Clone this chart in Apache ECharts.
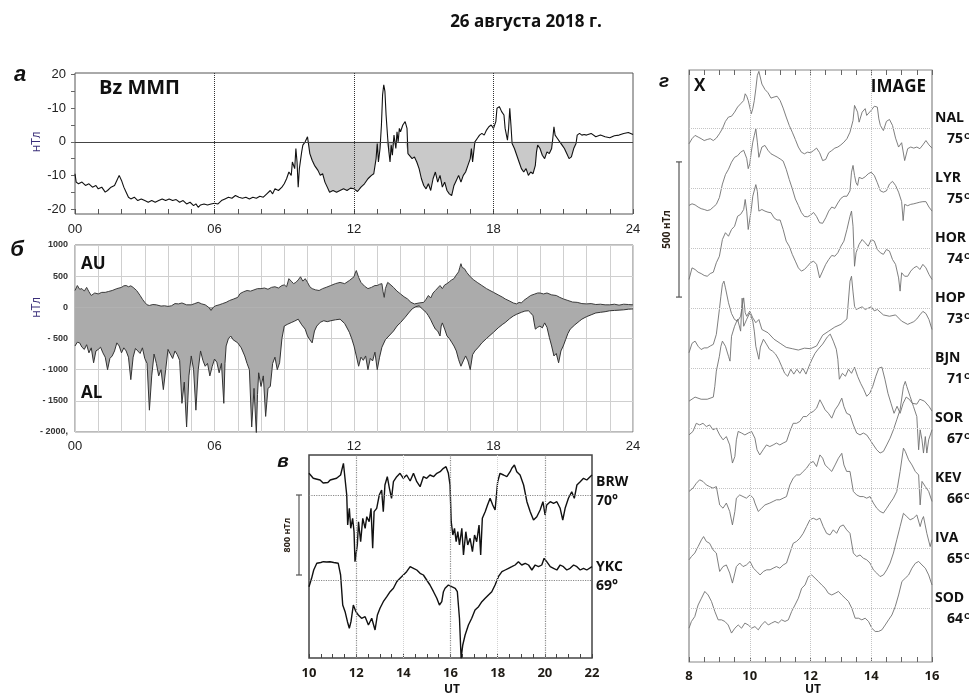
<!DOCTYPE html>
<html><head><meta charset="utf-8">
<script src="https://cdn.jsdelivr.net/npm/echarts@6/dist/echarts.min.js"></script>
<style>html,body{margin:0;padding:0;background:#fff}#c{width:969px;height:695px}</style>
</head><body><div id="c"></div>
<script>
// ---------- Panel а: Bz IMF (nT) vs UT hours ----------
const bzTickValues=[-20,-10,0,10,20];
const bzTickText={'-20':'-20','-10':'-10','0':'0','10':'-10','20':'20'};
const bzDottedHours=[6,12,18];
const bzShadeRange=[9.9,21.6];
const bz=[[0.00,-9.5],[0.05,-12],[0.15,-12.5],[0.3,-12],[0.45,-13],[0.6,-12.5],[0.75,-13.5],[0.9,-13],[1.0,-14],[1.15,-13.5],[1.3,-15],[1.4,-14.5],[1.55,-13.5],[1.7,-13],[1.8,-11.5],[1.9,-10],[2.0,-11.5],[2.1,-13.5],[2.2,-15],[2.3,-16.5],[2.4,-17],[2.55,-16.5],[2.7,-17.5],[2.85,-17],[3.0,-17.5],[3.15,-18],[3.3,-17.5],[3.45,-18],[3.6,-17.5],[3.75,-17],[3.9,-17.5],[4.05,-17],[4.2,-17.5],[4.35,-17.2],[4.5,-18],[4.65,-17.5],[4.8,-18.5],[4.95,-18],[5.1,-19],[5.2,-18.5],[5.3,-19.5],[5.4,-18.8],[5.55,-18.5],[5.7,-18.8],[5.85,-18.5],[6.0,-18.3],[6.15,-18.5],[6.3,-17.5],[6.45,-17],[6.6,-16.5],[6.75,-16.8],[6.9,-16],[7.05,-16.5],[7.2,-16.8],[7.35,-16.5],[7.5,-17],[7.65,-16.5],[7.8,-16.8],[7.95,-16.2],[8.1,-16.5],[8.25,-15.5],[8.4,-14.5],[8.5,-15.5],[8.6,-14],[8.75,-14.5],[8.9,-13.5],[9.0,-12.5],[9.1,-11],[9.2,-9],[9.3,-10],[9.35,-6],[9.45,-8],[9.5,-2],[9.55,-6],[9.6,-13.5],[9.65,-8],[9.75,-3],[9.8,-1],[9.9,0],[10.0,1.5],[10.05,-1],[10.1,-3.5],[10.2,-5.5],[10.3,-7],[10.45,-8.5],[10.55,-10],[10.65,-9.5],[10.75,-12],[10.85,-13.5],[10.95,-15],[11.1,-14.5],[11.25,-15],[11.4,-14.5],[11.55,-14],[11.7,-14.5],[11.85,-13.8],[12.0,-14],[12.15,-14.8],[12.3,-13.5],[12.45,-12.5],[12.6,-11],[12.75,-10],[12.85,-9.5],[12.95,-5],[13.0,-0.5],[13.05,-6],[13.12,-2],[13.18,5],[13.23,14],[13.28,17],[13.33,15],[13.38,8],[13.45,1],[13.5,-3],[13.55,-6],[13.6,-1],[13.65,-4],[13.72,2],[13.8,-2],[13.85,3],[13.9,0],[13.95,4],[14.0,3],[14.1,5],[14.2,6],[14.28,4],[14.32,-3.5],[14.4,-4],[14.5,-5],[14.6,-4.5],[14.7,-6],[14.8,-8],[14.9,-11],[15.0,-13],[15.1,-14],[15.2,-12.5],[15.3,-14.5],[15.4,-11],[15.5,-9],[15.6,-12],[15.7,-10],[15.8,-13.5],[15.9,-12],[16.0,-14.5],[16.1,-15.5],[16.2,-16],[16.3,-13],[16.4,-11.5],[16.5,-10],[16.6,-12],[16.7,-10],[16.8,-9],[16.9,-7],[17.0,-5],[17.05,-2],[17.1,-6],[17.2,0],[17.3,1],[17.4,2],[17.5,2.5],[17.6,2],[17.7,3.5],[17.8,4.5],[17.9,5],[18.0,4],[18.1,6],[18.15,10],[18.25,10.5],[18.35,9],[18.45,8],[18.5,4],[18.6,0.5],[18.65,4],[18.7,10],[18.75,5],[18.8,-0.5],[18.9,-2],[19.0,-4],[19.1,-6],[19.2,-8],[19.3,-9],[19.4,-8],[19.5,-10],[19.6,-9],[19.7,-9.5],[19.8,-7],[19.85,-3],[19.9,-1],[20.0,-2],[20.1,-4],[20.2,-5],[20.3,-3],[20.4,-3.5],[20.5,-2],[20.55,1],[20.6,4.5],[20.65,2],[20.75,1],[20.85,0],[20.95,-1],[21.05,-2],[21.15,-3.5],[21.25,-5],[21.35,-4.5],[21.45,-2],[21.55,-0.5],[21.6,2],[21.7,2.5],[21.8,2],[21.9,2.2],[22.0,2],[22.2,2.5],[22.4,1.5],[22.6,2],[22.8,1.5],[23.0,1.2],[23.2,1.8],[23.4,2],[23.6,2.5],[23.8,2.8],[24.0,2.2]];

// ---------- Panel б: AU / AL (nT) ----------
const aeTickText={'1000':'1000','500':'500','0':'0','-500':'- 500','-1000':'- 1000','-1500':'- 1500','-2000':'- 2000,'};
const au=[[0,270],[0.1,350],[0.2,290],[0.3,300],[0.4,260],[0.5,320],[0.6,250],[0.7,190],[0.85,230],[1.0,215],[1.15,240],[1.3,240],[1.45,255],[1.6,270],[1.8,300],[2.0,320],[2.1,345],[2.2,350],[2.3,330],[2.4,345],[2.5,320],[2.65,270],[2.8,190],[2.9,130],[3.0,80],[3.1,40],[3.2,30],[3.35,45],[3.5,40],[3.7,20],[3.85,25],[4.0,15],[4.15,25],[4.3,60],[4.45,55],[4.6,70],[4.8,40],[5.0,40],[5.15,60],[5.3,80],[5.45,55],[5.6,40],[5.75,0],[5.85,-50],[5.95,0],[6.05,25],[6.2,40],[6.35,60],[6.5,80],[6.65,110],[6.8,130],[7.0,160],[7.1,220],[7.25,250],[7.4,270],[7.55,260],[7.7,280],[7.85,300],[8.0,300],[8.15,310],[8.3,290],[8.45,320],[8.6,330],[8.75,310],[8.9,350],[9.0,360],[9.1,330],[9.2,460],[9.3,420],[9.4,380],[9.5,400],[9.6,440],[9.7,490],[9.8,420],[9.9,460],[10.0,400],[10.1,330],[10.2,300],[10.35,280],[10.5,270],[10.65,300],[10.8,320],[11.0,350],[11.2,380],[11.4,400],[11.6,380],[11.8,430],[12.0,490],[12.05,550],[12.1,590],[12.2,480],[12.3,400],[12.45,340],[12.6,300],[12.75,320],[12.9,350],[13.0,350],[13.1,370],[13.2,380],[13.25,250],[13.3,160],[13.35,300],[13.45,400],[13.55,370],[13.7,320],[13.85,260],[14.0,215],[14.15,170],[14.3,135],[14.45,80],[14.6,55],[14.8,70],[15.0,80],[15.1,130],[15.2,190],[15.3,150],[15.4,230],[15.5,270],[15.6,310],[15.7,350],[15.8,300],[15.9,360],[16.0,380],[16.1,410],[16.2,440],[16.3,460],[16.4,520],[16.5,570],[16.55,640],[16.6,700],[16.65,640],[16.75,620],[16.85,560],[17.0,490],[17.15,440],[17.3,400],[17.5,350],[17.7,300],[17.85,270],[18.0,240],[18.2,200],[18.4,160],[18.5,135],[18.7,100],[18.85,70],[19.0,55],[19.1,80],[19.2,70],[19.3,110],[19.45,150],[19.6,190],[19.75,210],[19.9,230],[20.0,230],[20.15,215],[20.3,230],[20.5,200],[20.7,190],[20.85,160],[21.0,135],[21.2,110],[21.4,85],[21.6,80],[21.8,60],[22.0,55],[22.2,60],[22.4,45],[22.6,50],[22.8,40],[23.0,40],[23.2,50],[23.4,35],[23.6,50],[23.8,45],[24.0,40]];
const al=[[0,-620],[0.1,-560],[0.2,-570],[0.3,-640],[0.4,-675],[0.5,-600],[0.6,-730],[0.7,-650],[0.8,-890],[0.9,-700],[1.0,-675],[1.1,-640],[1.2,-730],[1.3,-800],[1.4,-1000],[1.5,-820],[1.6,-780],[1.7,-700],[1.8,-570],[1.9,-620],[2.0,-730],[2.1,-650],[2.2,-700],[2.3,-800],[2.4,-1160],[2.5,-800],[2.6,-660],[2.7,-700],[2.8,-740],[2.9,-650],[3.0,-820],[3.1,-900],[3.2,-1650],[3.3,-1100],[3.4,-750],[3.5,-900],[3.6,-1100],[3.7,-1000],[3.8,-1320],[3.9,-1000],[4.0,-675],[4.1,-750],[4.2,-820],[4.3,-700],[4.4,-760],[4.5,-850],[4.6,-1540],[4.7,-1200],[4.8,-1920],[4.9,-1100],[5.0,-780],[5.1,-1000],[5.2,-1650],[5.3,-1000],[5.4,-700],[5.5,-850],[5.6,-945],[5.7,-900],[5.8,-1100],[5.9,-950],[6.0,-830],[6.1,-880],[6.2,-1050],[6.3,-900],[6.4,-1540],[6.45,-900],[6.5,-620],[6.6,-500],[6.7,-460],[6.8,-520],[7.0,-570],[7.15,-650],[7.3,-780],[7.4,-900],[7.5,-1000],[7.6,-1920],[7.7,-1300],[7.8,-2025],[7.85,-1400],[7.9,-1050],[8.0,-1270],[8.1,-1100],[8.2,-1750],[8.3,-1300],[8.4,-1270],[8.5,-900],[8.6,-800],[8.7,-1000],[8.8,-890],[8.9,-500],[9.0,-300],[9.15,-270],[9.3,-245],[9.45,-220],[9.6,-190],[9.75,-280],[9.9,-350],[10.0,-460],[10.1,-520],[10.2,-570],[10.3,-380],[10.4,-300],[10.55,-240],[10.7,-215],[10.85,-230],[11.0,-215],[11.2,-200],[11.4,-190],[11.6,-260],[11.8,-400],[11.9,-500],[12.0,-620],[12.1,-780],[12.2,-945],[12.3,-800],[12.4,-850],[12.5,-780],[12.6,-1000],[12.7,-820],[12.8,-860],[12.9,-720],[13.0,-1000],[13.1,-800],[13.2,-640],[13.35,-520],[13.5,-460],[13.7,-380],[13.85,-300],[14.0,-245],[14.2,-160],[14.35,-90],[14.5,-25],[14.65,10],[14.8,25],[14.95,-30],[15.1,-80],[15.2,-135],[15.3,-200],[15.4,-280],[15.5,-350],[15.6,-380],[15.7,-460],[15.75,-300],[15.8,-250],[15.9,-350],[16.0,-460],[16.1,-500],[16.2,-560],[16.3,-620],[16.4,-700],[16.5,-840],[16.6,-945],[16.7,-860],[16.8,-780],[16.9,-860],[17.0,-1000],[17.1,-760],[17.2,-700],[17.35,-640],[17.5,-570],[17.7,-500],[17.85,-450],[18.0,-400],[18.2,-330],[18.4,-270],[18.5,-245],[18.7,-180],[18.85,-140],[19.0,-110],[19.2,-80],[19.35,-60],[19.5,-55],[19.6,-90],[19.7,-135],[19.75,-250],[19.8,-350],[19.9,-320],[20.0,-300],[20.1,-330],[20.2,-250],[20.3,-320],[20.4,-480],[20.5,-620],[20.6,-780],[20.7,-740],[20.8,-890],[20.9,-700],[21.0,-620],[21.1,-520],[21.2,-420],[21.3,-350],[21.5,-280],[21.7,-220],[21.8,-190],[22.0,-150],[22.2,-120],[22.4,-90],[22.6,-80],[22.8,-70],[23.0,-55],[23.2,-50],[23.4,-45],[23.6,-40],[23.8,-30],[24.0,-25]];

// ---------- Panel в: BRW / YKC X-component deviation (nT) ----------
const vStations=['BRW','YKC'];
const vLats=['70°','69°'];
const vDottedHours=[12,16,20];
const vFaintHours=[14,18];
const brw=[[10.0,217],[10.1,190],[10.18,167],[10.3,160],[10.47,150],[10.6,120],[10.68,100],[10.8,125],[10.9,150],[11.05,160],[11.17,167],[11.34,200],[11.46,317],[11.53,300],[11.6,0],[11.64,-300],[11.71,-133],[11.77,-333],[11.85,-233],[11.91,-367],[11.95,-667],[12.05,-500],[12.1,-267],[12.19,-467],[12.28,-233],[12.38,-333],[12.45,-217],[12.55,-267],[12.63,-133],[12.7,-533],[12.76,-167],[12.87,-133],[12.98,0],[13.08,50],[13.15,-167],[13.22,100],[13.32,183],[13.41,67],[13.5,-33],[13.58,133],[13.72,183],[13.86,217],[14.0,167],[14.14,200],[14.29,140],[14.43,217],[14.57,133],[14.71,83],[14.85,183],[14.99,167],[15.13,200],[15.28,183],[15.42,217],[15.56,233],[15.7,267],[15.81,283],[15.91,217],[15.98,100],[16.03,-267],[16.1,-400],[16.17,-333],[16.24,-467],[16.31,-367],[16.38,-500],[16.48,-333],[16.55,-600],[16.65,-367],[16.73,-500],[16.83,-433],[16.93,-567],[17.02,-400],[17.11,-467],[17.21,-300],[17.28,-600],[17.35,-233],[17.47,-167],[17.57,-100],[17.68,-33],[17.79,-100],[17.89,-150],[17.96,-167],[18.0,133],[18.1,217],[18.25,200],[18.39,183],[18.53,233],[18.6,267],[18.71,300],[18.81,233],[18.95,200],[19.1,100],[19.24,-67],[19.38,-167],[19.52,-250],[19.66,-217],[19.8,-150],[19.92,-67],[20.01,-200],[20.08,-100],[20.23,-67],[20.37,-83],[20.51,-67],[20.65,-133],[20.76,-250],[20.86,-133],[21.0,-33],[21.14,33],[21.25,-33],[21.36,100],[21.5,133],[21.64,167],[21.78,150],[21.92,183],[22.0,200]];
const ykc=[[10.0,-67],[10.11,17],[10.2,100],[10.33,167],[10.5,175],[10.61,183],[10.75,180],[10.89,183],[11.05,175],[11.24,167],[11.34,50],[11.43,-250],[11.53,-317],[11.63,-417],[11.71,-483],[11.78,-417],[11.88,-250],[11.99,-317],[12.09,-350],[12.23,-383],[12.38,-367],[12.52,-450],[12.66,-383],[12.8,-500],[12.9,-350],[13.01,-283],[13.15,-217],[13.3,-167],[13.44,-117],[13.58,-83],[13.72,-17],[13.86,17],[14.0,50],[14.14,83],[14.29,133],[14.43,117],[14.57,100],[14.71,67],[14.85,50],[14.99,0],[15.13,-50],[15.28,-117],[15.42,-183],[15.53,-250],[15.63,-217],[15.7,-117],[15.77,-83],[15.91,-50],[16.05,-67],[16.2,-83],[16.29,-117],[16.38,-383],[16.45,-783],[16.52,-650],[16.62,-550],[16.76,-450],[16.9,-383],[17.04,-300],[17.19,-267],[17.33,-217],[17.47,-183],[17.61,-150],[17.75,-117],[17.89,-50],[18.03,33],[18.18,83],[18.32,100],[18.46,117],[18.6,133],[18.74,150],[18.88,183],[19.02,150],[19.17,167],[19.31,150],[19.45,100],[19.59,150],[19.73,133],[19.87,150],[19.97,217],[20.08,183],[20.23,133],[20.37,117],[20.51,100],[20.65,150],[20.79,133],[20.93,100],[21.07,117],[21.22,150],[21.36,133],[21.5,100],[21.64,117],[21.78,100],[22.0,133]];

// ---------- Panel г: IMAGE X-component deviations (nT) ----------
const imageStations=['NAL','LYR','HOR','HOP','BJN','SOR','KEV','IVA','SOD'];
const imageLats=['75','75','74','73','71','67','66','65','64'];
const imageDottedHours=[10,12,14];
const nal=[[8.0,-58],[8.1,-39],[8.2,-27],[8.3,-33],[8.4,-39],[8.5,-46],[8.6,-42],[8.7,-39],[8.8,-46],[8.9,-37],[9.0,-21],[9.1,-2],[9.2,25],[9.3,41],[9.4,44],[9.5,59],[9.6,78],[9.7,90],[9.8,102],[9.85,127],[9.9,118],[9.95,102],[10.0,78],[10.05,53],[10.1,72],[10.15,102],[10.2,145],[10.25,195],[10.3,210],[10.35,213],[10.4,163],[10.5,143],[10.6,131],[10.7,111],[10.8,115],[10.9,118],[11.0,102],[11.1,74],[11.2,41],[11.3,10],[11.4,-15],[11.5,-42],[11.6,-70],[11.7,-89],[11.8,-95],[11.9,-89],[12.0,-91],[12.1,-83],[12.2,-74],[12.3,-91],[12.4,-120],[12.5,-116],[12.6,-91],[12.7,-83],[12.8,-74],[12.9,-70],[13.0,-62],[13.1,-52],[13.2,-39],[13.3,-15],[13.4,28],[13.45,84],[13.5,90],[13.55,59],[13.6,22],[13.7,59],[13.8,72],[13.85,47],[13.9,41],[14.0,66],[14.1,81],[14.2,78],[14.25,34],[14.3,10],[14.4,-9],[14.5,25],[14.6,32],[14.7,10],[14.8,-37],[14.9,-70],[15.0,-54],[15.1,-120],[15.2,-76],[15.3,-70],[15.4,-74],[15.5,-70],[15.6,-76],[15.7,-62],[15.8,-46],[15.9,-62],[16.0,-74]];
const lyr=[[8.0,-64],[8.1,-58],[8.2,-62],[8.3,-70],[8.4,-76],[8.5,-79],[8.6,-83],[8.7,-80],[8.8,-70],[8.9,-60],[9.0,-35],[9.1,15],[9.2,50],[9.3,70],[9.4,96],[9.5,114],[9.6,120],[9.7,133],[9.8,140],[9.9,110],[9.95,72],[10.0,90],[10.05,133],[10.1,170],[10.15,195],[10.2,219],[10.25,170],[10.3,114],[10.4,152],[10.5,158],[10.6,140],[10.7,127],[10.8,121],[10.9,115],[11.0,108],[11.1,100],[11.2,70],[11.3,32],[11.4,-2],[11.5,-40],[11.6,-64],[11.7,-90],[11.8,-105],[11.9,-106],[12.0,-100],[12.1,-90],[12.2,-105],[12.3,-128],[12.4,-130],[12.5,-110],[12.6,-85],[12.7,-70],[12.8,-75],[12.9,-55],[13.0,-38],[13.1,-30],[13.2,-30],[13.3,-10],[13.35,59],[13.4,84],[13.45,47],[13.5,20],[13.55,10],[13.6,40],[13.7,35],[13.8,42],[13.9,53],[14.0,59],[14.1,47],[14.2,20],[14.3,-10],[14.4,-15],[14.5,-10],[14.6,15],[14.7,25],[14.8,10],[14.9,-15],[15.0,-50],[15.05,-120],[15.1,-60],[15.2,-65],[15.3,-60],[15.4,-58],[15.5,-55],[15.6,-52],[15.7,-50],[15.8,-50],[15.9,-70],[16.0,-85]];
const hor=[[8.0,-116],[8.1,-73],[8.2,-79],[8.3,-89],[8.4,-94],[8.5,-101],[8.6,-104],[8.7,-94],[8.8,-89],[8.9,-54],[9.0,-30],[9.1,32],[9.2,57],[9.3,44],[9.4,69],[9.5,81],[9.6,118],[9.7,125],[9.8,143],[9.85,180],[9.9,137],[9.95,69],[10.0,75],[10.05,143],[10.1,192],[10.2,235],[10.25,210],[10.3,137],[10.4,143],[10.5,137],[10.6,133],[10.7,131],[10.8,112],[10.9,104],[11.0,104],[11.1,69],[11.2,26],[11.3,7],[11.4,-23],[11.5,-48],[11.6,-73],[11.7,-85],[11.8,-79],[11.9,-67],[12.0,-54],[12.1,-48],[12.2,-60],[12.3,-110],[12.4,-85],[12.5,-60],[12.6,-42],[12.7,-27],[12.8,-30],[12.9,-17],[13.0,7],[13.1,26],[13.2,69],[13.3,118],[13.35,137],[13.4,81],[13.45,-67],[13.5,-17],[13.6,14],[13.7,32],[13.8,20],[13.9,7],[14.0,32],[14.1,26],[14.2,-5],[14.3,-17],[14.4,-23],[14.5,-5],[14.6,-11],[14.7,-42],[14.8,-60],[14.9,-110],[14.95,-159],[15.0,-91],[15.1,-104],[15.2,-104],[15.3,-85],[15.4,-73],[15.5,-67],[15.6,-79],[15.7,-60],[15.8,-73],[15.9,-97],[16.0,-116]];
const hop=[[8.0,-165],[8.1,-130],[8.2,-122],[8.3,-141],[8.4,-153],[8.5,-147],[8.6,-147],[8.7,-140],[8.8,-134],[8.9,-97],[9.0,-5],[9.05,44],[9.1,88],[9.15,100],[9.2,75],[9.3,20],[9.4,-20],[9.5,-42],[9.6,-48],[9.7,-30],[9.75,7],[9.8,38],[9.85,-17],[9.9,-30],[10.0,-11],[10.1,-36],[10.2,-54],[10.3,-42],[10.4,-79],[10.5,-85],[10.6,-91],[10.8,-115],[11.0,-130],[11.2,-145],[11.4,-150],[11.6,-155],[11.8,-148],[12.0,-150],[12.2,-140],[12.4,-100],[12.6,-85],[12.8,-70],[13.0,-60],[13.2,-40],[13.3,100],[13.35,118],[13.4,60],[13.45,7],[13.5,-5],[13.6,0],[13.7,5],[13.8,-5],[13.9,0],[14.0,5],[14.1,-10],[14.2,-5],[14.4,-25],[14.6,-30],[14.8,-25],[15.0,-48],[15.2,-60],[15.3,-55],[15.4,-50],[15.5,-40],[15.6,-25],[15.7,-12],[15.8,-20],[15.9,-42],[16.0,-79]];
const bjn=[[8.0,-122],[8.2,-107],[8.4,-115],[8.6,-115],[8.8,-107],[8.85,-67],[8.9,-11],[9.0,44],[9.05,81],[9.1,100],[9.2,81],[9.3,44],[9.35,26],[9.4,118],[9.5,155],[9.6,181],[9.7,137],[9.75,259],[9.8,155],[9.9,181],[10.0,204],[10.1,174],[10.15,137],[10.2,81],[10.3,33],[10.35,78],[10.45,107],[10.55,89],[10.65,70],[10.75,63],[10.85,52],[10.95,33],[11.05,7],[11.15,-19],[11.25,-30],[11.35,-4],[11.45,-22],[11.55,-4],[11.65,-19],[11.75,0],[11.85,-22],[11.95,7],[12.05,33],[12.15,55],[12.25,70],[12.4,89],[12.55,115],[12.65,126],[12.75,100],[12.85,70],[12.9,33],[12.95,-41],[13.05,-19],[13.15,-30],[13.25,-4],[13.35,-19],[13.45,4],[13.55,-30],[13.65,-56],[13.75,-78],[13.85,-104],[13.95,-93],[14.05,-67],[14.15,-30],[14.25,0],[14.35,4],[14.45,-41],[14.55,-93],[14.65,-130],[14.75,-167],[14.85,-141],[14.95,-167],[15.05,-130],[15.15,-107],[15.25,-115],[15.35,-130],[15.5,-133],[15.6,-115],[15.75,-122],[15.9,-141],[16.0,-159]];
const sor=[[8.00,-25],[8.13,-12],[8.24,18],[8.35,12],[8.46,18],[8.57,6],[8.68,12],[8.79,-6],[8.90,0],[9.01,-25],[9.12,-43],[9.23,-31],[9.34,-62],[9.43,-129],[9.51,-105],[9.56,-43],[9.62,-12],[9.73,-18],[9.84,-25],[9.95,-18],[10.06,-12],[10.17,-37],[10.24,-80],[10.33,-99],[10.44,-80],[10.55,-62],[10.66,-68],[10.77,-62],[10.88,-55],[10.99,-62],[11.10,-55],[11.21,-49],[11.32,-12],[11.43,18],[11.54,18],[11.65,25],[11.76,43],[11.87,43],[11.98,55],[12.09,62],[12.20,74],[12.31,105],[12.40,86],[12.48,68],[12.59,55],[12.70,37],[12.81,68],[12.92,86],[13.03,111],[13.10,80],[13.19,55],[13.30,49],[13.41,12],[13.52,-18],[13.63,-25],[13.74,-18],[13.85,-25],[13.96,-43],[14.07,-62],[14.18,-80],[14.29,-92],[14.40,-86],[14.51,-62],[14.62,-37],[14.73,-6],[14.84,31],[14.95,68],[15.06,154],[15.12,173],[15.17,154],[15.28,117],[15.39,80],[15.50,43],[15.56,-80],[15.61,-6],[15.67,-43],[15.72,-92],[15.78,-31],[15.83,-92],[15.89,-43],[16.00,-6]];
const kev=[[8.00,-12],[8.13,0],[8.24,18],[8.35,31],[8.46,25],[8.57,12],[8.68,6],[8.79,0],[8.90,6],[9.01,-62],[9.12,-74],[9.23,-55],[9.34,-86],[9.43,-136],[9.51,-86],[9.56,-37],[9.67,-25],[9.78,-31],[9.89,-37],[10.01,-25],[10.12,-37],[10.17,-55],[10.28,-86],[10.39,-74],[10.50,-62],[10.66,-55],[10.77,-49],[10.88,-43],[10.99,-43],[11.10,-37],[11.21,-31],[11.32,12],[11.43,37],[11.54,49],[11.65,49],[11.76,62],[11.87,74],[11.98,92],[12.09,99],[12.20,80],[12.31,123],[12.40,111],[12.48,86],[12.59,74],[12.70,62],[12.81,86],[12.92,111],[13.03,129],[13.10,86],[13.19,62],[13.30,62],[13.41,-12],[13.52,-25],[13.63,-31],[13.74,-31],[13.85,-37],[13.96,-31],[14.07,-55],[14.18,-74],[14.29,-86],[14.40,-92],[14.51,-74],[14.62,-55],[14.73,-37],[14.84,-12],[14.95,62],[15.06,148],[15.12,136],[15.23,105],[15.34,86],[15.45,62],[15.56,49],[15.61,-62],[15.67,25],[15.78,6],[15.89,-12],[16.00,-49]];
const iva=[[8.00,-43],[8.08,-31],[8.19,-18],[8.30,6],[8.41,31],[8.48,43],[8.57,25],[8.68,18],[8.79,-6],[8.90,-18],[9.01,-86],[9.12,-68],[9.23,-62],[9.34,-92],[9.43,-129],[9.51,-92],[9.56,-68],[9.67,-55],[9.78,-68],[9.89,-62],[10.01,-49],[10.12,-74],[10.23,-86],[10.34,-99],[10.45,-86],[10.56,-80],[10.67,-80],[10.77,-74],[10.88,-68],[10.99,-74],[11.10,-62],[11.21,-55],[11.32,-18],[11.43,18],[11.54,25],[11.65,37],[11.76,55],[11.87,80],[11.98,105],[12.09,111],[12.20,105],[12.31,111],[12.42,80],[12.53,55],[12.64,49],[12.75,68],[12.86,55],[12.97,80],[13.08,86],[13.19,68],[13.30,55],[13.41,-18],[13.52,-31],[13.63,-25],[13.74,-37],[13.85,-43],[13.96,-55],[14.07,-80],[14.18,-92],[14.29,-105],[14.40,-99],[14.51,-80],[14.62,-55],[14.73,-18],[14.84,31],[14.95,80],[15.06,129],[15.17,117],[15.28,105],[15.39,111],[15.50,123],[15.61,80],[15.67,105],[15.72,117],[15.83,55],[15.94,6],[16.00,31]];
const sodHours=[8.00,8.08,8.19,8.30,8.41,8.52,8.63,8.74,8.85,8.96,9.07,9.18,9.29,9.40,9.51,9.62,9.73,9.84,9.95,10.06,10.17,10.28,10.39,10.50,10.61,10.72,10.83,10.94,11.05,11.16,11.27,11.38,11.49,11.60,11.71,11.82,11.93,12.04,12.15,12.26,12.37,12.48,12.59,12.70,12.81,12.92,13.03,13.14,13.25,13.36,13.47,13.58,13.69,13.80,13.91,14.02,14.13,14.24,14.35,14.46,14.57,14.68,14.79,14.90,15.01,15.12,15.23,15.34,15.45,15.56,15.67,15.78,15.89,16.00];
const sodValues=[-74,-49,-31,12,37,62,49,25,-12,-43,-43,-49,-62,-92,-74,-62,-74,-55,-62,-74,-68,-80,-62,-49,-62,-55,-49,-55,-43,-49,-43,-12,12,37,74,86,117,123,111,99,86,74,55,49,55,62,49,37,25,0,-37,-37,-43,-37,-49,-74,-86,-86,-80,-62,-43,-25,6,49,99,111,123,148,166,173,160,148,123,86];
const sod=sodHours.map((h,i)=>[h,sodValues[i]]);
const imageData=[nal,lyr,hor,hop,bjn,sor,kev,iva,sod];

// ---------- build ----------
const FONT='"Open Sans","Liberation Sans",sans-serif';
const AFONT='"Liberation Sans","DejaVu Sans",sans-serif';
const pad2=v=>(v<10?'0':'')+v;
const steps=(a,b,s)=>{const r=[];for(let t=a;t<=b+1e-9;t+=s)r.push(+t.toFixed(3));return r;};
const IMG_STEP=222, IMG_FIRST=215; // vertical spacing of IMAGE traces in nT
const YKC_SHIFT=-850;
const imgOffset=i=>-(IMG_FIRST+i*IMG_STEP);
const ML=(data,color,type,width)=>({silent:true,symbol:['none','none'],label:{show:false},animation:false,
  lineStyle:{color:color,type:type,width:width||1},emphasis:{disabled:true},data:data});
const NOLINE={show:false,onZero:false};

const chart=echarts.init(document.getElementById('c'),null,{renderer:'canvas',width:969,height:695});

const series=[
  {name:'bzShade',type:'line',xAxisIndex:0,yAxisIndex:0,showSymbol:false,silent:true,z:1,
   data:bz.filter(p=>p[0]>=bzShadeRange[0]&&p[0]<=bzShadeRange[1]).map(p=>[p[0],Math.min(p[1],0)]),
   lineStyle:{width:0,opacity:0},areaStyle:{color:'#c9c9c9',opacity:1}},
  {name:'Bz',type:'line',xAxisIndex:0,yAxisIndex:0,showSymbol:false,z:3,data:bz,
   lineStyle:{color:'#111',width:1.1},
   markLine:ML(bzDottedHours.map(h=>({xAxis:h})).concat([{yAxis:0,lineStyle:{type:'solid',color:'#444',width:1}}]),'#333','dotted',1)},
  {name:'AU',type:'line',xAxisIndex:1,yAxisIndex:1,showSymbol:false,z:3,data:au,
   lineStyle:{color:'#3c3c3c',width:1},areaStyle:{color:'#ababab',opacity:1,origin:0}},
  {name:'AL',type:'line',xAxisIndex:1,yAxisIndex:1,showSymbol:false,z:3,data:al,
   lineStyle:{color:'#333',width:1},areaStyle:{color:'#ababab',opacity:1,origin:0}},
  {name:'BRW',type:'line',xAxisIndex:2,yAxisIndex:2,showSymbol:false,z:3,data:brw,
   lineStyle:{color:'#111',width:1.4},
   markLine:ML(vDottedHours.map(h=>({xAxis:h}))
     .concat(vFaintHours.map(h=>({xAxis:h,lineStyle:{color:'#d2d2d2',type:'dotted',width:1}})))
     .concat([{yAxis:0},{yAxis:YKC_SHIFT}]),'#8a8a8a','dotted',1.2)},
  {name:'YKC',type:'line',xAxisIndex:2,yAxisIndex:2,showSymbol:false,z:3,
   data:ykc.map(p=>[p[0],p[1]+YKC_SHIFT]),lineStyle:{color:'#111',width:1.4}}
];
imageData.forEach((d,i)=>{
  const lines=[{yAxis:imgOffset(i)}];
  if(i===0) imageDottedHours.forEach(h=>lines.push({xAxis:h}));
  series.push({name:imageStations[i],type:'line',xAxisIndex:3,yAxisIndex:3,showSymbol:false,z:3,
    data:d.map(p=>[p[0],p[1]+imgOffset(i)]),lineStyle:{color:'#707070',width:0.9},
    markLine:ML(lines,'#c4c4c4','dotted',1)});
});

const option={
  animation:false,backgroundColor:'#fff',
  grid:[
    {left:75,top:73,width:558,height:141,show:true,borderColor:'#555',borderWidth:1,backgroundColor:'transparent'},
    {left:75,top:245,width:558,height:187,show:true,borderColor:'#777',borderWidth:1,backgroundColor:'transparent'},
    {left:309,top:455,width:283,height:203,show:true,borderColor:'#444',borderWidth:1.5,backgroundColor:'transparent'},
    {left:689,top:70,width:243,height:592,show:true,borderColor:'#888',borderWidth:1.2,backgroundColor:'transparent'}
  ],
  xAxis:[
    {gridIndex:0,type:'value',min:0,max:24,interval:1,axisLine:NOLINE,splitLine:{show:false},
     axisTick:{show:true,inside:true,length:5,lineStyle:{color:'#555'}},
     axisLabel:{margin:9,fontSize:13,color:'#222',fontFamily:AFONT,formatter:v=>v%6===0?pad2(v):''}},
    {gridIndex:1,type:'value',min:0,max:24,interval:1,axisLine:NOLINE,axisTick:{show:false},
     splitLine:{show:true,lineStyle:{color:'#cfcfcf',width:1}},
     axisLabel:{margin:8,fontSize:13,color:'#222',fontFamily:AFONT,formatter:v=>v%6===0?pad2(v):''}},
    {gridIndex:2,type:'value',min:10,max:22,interval:2,axisLine:NOLINE,splitLine:{show:false},
     axisTick:{show:true,inside:true,length:4,customValues:steps(10,22,0.5),lineStyle:{color:'#444'}},
     axisLabel:{margin:9,fontSize:13,fontWeight:'bold',color:'#1e1a14',fontFamily:FONT}},
    {gridIndex:3,type:'value',min:8,max:16,interval:2,axisLine:NOLINE,splitLine:{show:false},
     axisTick:{show:true,inside:true,length:5,customValues:steps(8,16,0.5),lineStyle:{color:'#666'}},
     axisLabel:{margin:8,fontSize:13,fontWeight:'bold',color:'#1e1a14',fontFamily:FONT}},
    {gridIndex:3,type:'value',min:8,max:16,position:'top',axisLine:NOLINE,axisLabel:{show:false},splitLine:{show:false},
     axisTick:{show:true,inside:true,length:5,customValues:steps(8,16,0.5),lineStyle:{color:'#666'}}}
  ],
  yAxis:[
    {gridIndex:0,type:'value',min:-21.5,max:20.5,axisLine:NOLINE,splitLine:{show:false},
     axisTick:{show:true,length:4,customValues:steps(-20,20,5),lineStyle:{color:'#666'}},
     axisLabel:{customValues:bzTickValues,margin:9,fontSize:13,color:'#222',fontFamily:AFONT,formatter:v=>bzTickText[String(v)]??String(v)}},
    {gridIndex:1,type:'value',min:-2000,max:1000,interval:500,axisLine:NOLINE,axisTick:{show:false},
     splitLine:{show:true,lineStyle:{color:'#cfcfcf',width:1}},
     axisLabel:{margin:7,fontSize:9,fontWeight:'bold',color:'#333',fontFamily:AFONT,formatter:v=>aeTickText[String(v)]??String(v)}},
    {gridIndex:2,type:'value',min:-1630,max:400,show:false,splitLine:{show:false}},
    {gridIndex:3,type:'value',min:-2190,max:0,show:false,splitLine:{show:false}}
  ],
  series:series
};
chart.setOption(option);

// ---------- annotations positioned through the axes ----------
const g=[];
const txt=(x,y,text,size,opts)=>g.push(Object.assign({type:'text',x:x,y:y,silent:true,z:20,
  style:Object.assign({text:text,fontSize:size,fontFamily:FONT,fontWeight:'bold',fill:'#111',align:'left',verticalAlign:'middle'},(opts&&opts.style)||{})},
  (opts&&opts.el)||{}));
txt(526,22,'26 августа 2018 г.',17,{style:{align:'center'}});
txt(20,75,'а',22,{style:{fontStyle:'italic',align:'center',fontFamily:AFONT}});
txt(17,250,'б',22,{style:{fontStyle:'italic',align:'center',fontFamily:AFONT}});
txt(283,462,'в',19,{style:{fontStyle:'italic',align:'center',fontFamily:AFONT}});
txt(664,82,'г',19,{style:{fontStyle:'italic',align:'center',fontFamily:AFONT}});
txt(99,88,'Bz ММП',20);
txt(81,264,'AU',17);
txt(81,393,'AL',17);
txt(694,86,'X',17);
txt(926,87,'IMAGE',17,{style:{align:'right'}});
txt(452,690,'UT',12,{style:{align:'center'}});
txt(813,690,'UT',12,{style:{align:'center'}});
// rotated unit names of panels а and б, centred on their zero lines
[[0,0],[1,0]].forEach(([ax,v])=>{
  const y=chart.convertToPixel({xAxisIndex:ax,yAxisIndex:ax},[0,v])[1];
  g.push({type:'text',x:37,y:y,rotation:Math.PI/2,silent:true,z:20,
    style:{text:'нТл',fontSize:12,fontFamily:FONT,fill:'#3b2f7a',align:'center',verticalAlign:'middle'}});
});

// IMAGE station labels
imageStations.forEach((s,i)=>{
  const by=chart.convertToPixel({xAxisIndex:3,yAxisIndex:3},[16,imgOffset(i)])[1];
  txt(935,by-10,s,14);
  g.push({type:'text',x:947,y:by+11,silent:true,z:20,style:{text:'{n|'+imageLats[i]+'}{o|O}',fill:'#111',
    verticalAlign:'middle',rich:{n:{fontSize:14,fontWeight:'bold',fontFamily:FONT},o:{fontSize:9,fontWeight:'bold',fontFamily:FONT,verticalAlign:'top',padding:[0,0,0,1]}}}});
});
// BRW / YKC labels
[0,YKC_SHIFT].forEach((off,i)=>{
  const by=chart.convertToPixel({xAxisIndex:2,yAxisIndex:2},[22,off])[1];
  txt(596,by-13,vStations[i],14);
  txt(596,by+6,vLats[i],14);
});
// scale bars
const bar=(x,y1,y2,label,lx,size)=>{
  g.push({type:'line',silent:true,z:20,shape:{x1:x,y1:y1,x2:x,y2:y2},style:{stroke:'#555',lineWidth:1.2}});
  g.push({type:'line',silent:true,z:20,shape:{x1:x-3,y1:y1,x2:x+3,y2:y1},style:{stroke:'#555',lineWidth:1.2}});
  g.push({type:'line',silent:true,z:20,shape:{x1:x-3,y1:y2,x2:x+3,y2:y2},style:{stroke:'#555',lineWidth:1.2}});
  g.push({type:'text',x:lx,y:(y1+y2)/2,rotation:Math.PI/2,silent:true,z:20,
    style:{text:label,fontSize:size,fontWeight:'bold',fontFamily:FONT,fill:'#2a2016',align:'center',verticalAlign:'middle'}});
};
{
  const p1=chart.convertToPixel({xAxisIndex:3,yAxisIndex:3},[8,-340]);
  const p2=chart.convertToPixel({xAxisIndex:3,yAxisIndex:3},[8,-840]);
  bar(679,p1[1],p2[1],'500 нТл',667,10);
  const q1=chart.convertToPixel({xAxisIndex:2,yAxisIndex:2},[10,0]);
  const q2=chart.convertToPixel({xAxisIndex:2,yAxisIndex:2},[10,-800]);
  bar(299,q1[1],q2[1],'800 нТл',287,9);
}
chart.setOption({graphic:g});
</script></body></html>
